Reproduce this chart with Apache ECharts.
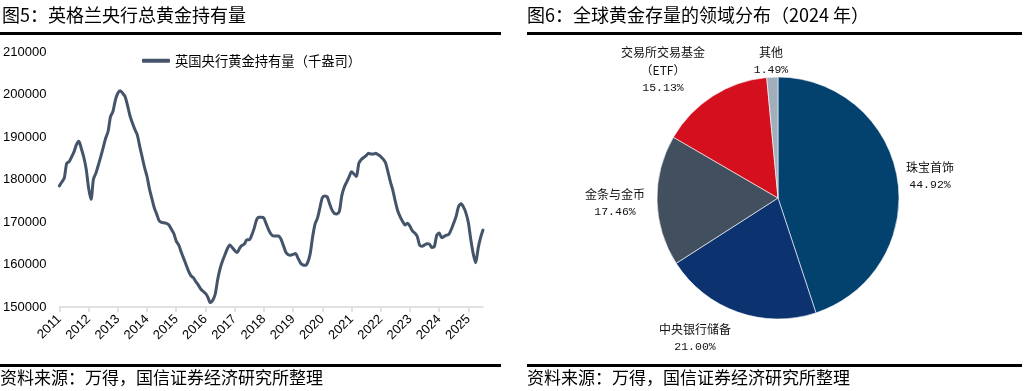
<!DOCTYPE html>
<html><head><meta charset="utf-8">
<script src="https://cdn.jsdelivr.net/npm/echarts@6/dist/echarts.min.js"></script>
<style>html,body{margin:0;padding:0;background:#fff}#c{width:1026px;height:391px}</style>
</head><body><div id="c"></div>
<script>
// ---- Figure 5: BoE gold holdings (thousand oz), monthly 2011-01 .. 2025-07 ----
const years = ['2011','2012','2013','2014','2015','2016','2017','2018','2019','2020','2021','2022','2023','2024','2025'];
const h2011 = [178500,179400,180300,183800,184200,185300,186500,188200,189000,187300,185300,182500];
const h2012 = [178000,175300,180100,181500,183400,185400,187500,189700,191300,194800,196000,198700];
const h2013 = [200300,200900,200300,199500,197400,195000,193300,191800,190500,187800,185300,182800];
const h2014 = [180700,177800,175500,173300,171800,170300,169900,169800,169700,169300,168300,167300];
const h2015 = [165500,164600,163000,161500,160000,158500,157400,156900,156000,155200,154300,153700];
const h2016 = [153200,152300,151000,151600,153000,156400,159000,160800,162300,163700,164600,164000];
const h2017 = [163300,162800,163800,164500,164800,165800,165800,166900,168500,170500,171100,171100];
const h2018 = [170900,169500,168100,167100,166700,166700,166700,166000,164500,162900,162300,162200];
const h2019 = [162400,162600,161500,160400,159900,159800,160500,162500,166400,169500,170900,173300];
const h2020 = [175700,176100,175900,174300,172800,172000,171900,172500,176200,178200,179400,180600];
const h2021 = [181800,181300,180700,183800,184700,185200,185600,186200,186000,186000,186200,185800];
const h2022 = [185400,184800,183900,181700,179400,177400,174800,172600,171200,170100,169300,169700];
const h2023 = [169000,167900,167400,166600,164500,164300,164600,164900,164800,164000,164200,166900];
const h2024 = [167400,166300,166600,166900,167100,168300,169800,171400,173700,174300,173500,172100];
const h2025 = [169800,165800,162500,160400,163800,166300,168100];
const yTicks = [150000,160000,170000,180000,190000,200000,210000];
const seriesName = '英国央行黄金持有量（千盎司）';

// ---- Figure 6: global gold stock by sector (2024) ----
const pieNames = ['珠宝首饰','中央银行储备','金条与金币','交易所交易基金\n（ETF）','其他'];
const pieValues = [44.92, 21.00, 17.46, 15.13, 1.49];

// ---- build ----
const yearly = [h2011,h2012,h2013,h2014,h2015,h2016,h2017,h2018,h2019,h2020,h2021,h2022,h2023,h2024,h2025];
const cats = [], vals = [];
yearly.forEach((arr, yi) => arr.forEach((v, mi) => {
  cats.push(years[yi] + '-' + String(mi + 1).padStart(2, '0'));
  vals.push(v);
}));

const pieColors = ['#03416F', '#0C3370', '#414F5F', '#D40F1E', '#A1AEBC'];
const labelCenters = [[930,176],[695,338],[615,203],[663,70],[771,61]];

const cjk = '"Noto Sans CJK SC", "Noto Sans", sans-serif';
const mono = '"Liberation Mono", "DejaVu Sans Mono", monospace';
const latin = '"Liberation Sans", Arial, sans-serif';

const chart = echarts.init(document.getElementById('c'), null, {renderer: 'canvas'});
chart.setOption({
  backgroundColor: '#fff',
  animation: false,
  textStyle: {fontFamily: cjk},
  graphic: [
    {type: 'text', left: 2, top: 6, style: {text: '图5：英格兰央行总黄金持有量', font: '18px ' + cjk, fill: '#000'}},
    {type: 'rect', shape: {x: 0, y: 32, width: 501, height: 3}, style: {fill: '#000'}},
    {type: 'text', left: 527, top: 6, style: {text: '图6：全球黄金存量的领域分布（2024 年）', font: '18px ' + cjk, fill: '#000'}},
    {type: 'rect', shape: {x: 527, y: 32, width: 495, height: 3}, style: {fill: '#000'}},
    {type: 'rect', shape: {x: 0, y: 364, width: 501, height: 3}, style: {fill: '#000'}},
    {type: 'rect', shape: {x: 527, y: 364, width: 495, height: 3}, style: {fill: '#000'}},
    {type: 'text', left: 0, top: 369, style: {text: '资料来源：万得，国信证券经济研究所整理', font: '17px ' + cjk, fill: '#000'}},
    {type: 'text', left: 527, top: 369, style: {text: '资料来源：万得，国信证券经济研究所整理', font: '17px ' + cjk, fill: '#000'}}
  ],
  legend: {
    data: [seriesName], left: 137, top: 49, icon: 'roundRect', itemWidth: 28, itemHeight: 4,
    textStyle: {fontSize: 13.3, color: '#000', fontFamily: cjk}
  },
  grid: {left: 58, right: 543, top: 52, bottom: 84, containLabel: false},
  xAxis: {
    type: 'category', data: cats, boundaryGap: false,
    axisLine: {lineStyle: {color: '#d9d9d9', width: 1.5}},
    axisTick: {interval: (i) => i % 12 === 0, length: 5, lineStyle: {color: '#d9d9d9', width: 1.5}},
    axisLabel: {interval: (i) => i % 12 === 0, formatter: (v) => v.slice(0, 4), rotate: 45,
      fontSize: 13, color: '#000', fontFamily: latin, margin: 10},
    splitLine: {show: false}
  },
  yAxis: {
    type: 'value', min: yTicks[0], max: yTicks[yTicks.length - 1], interval: 10000,
    axisLine: {show: false}, axisTick: {show: false}, splitLine: {show: false},
    axisLabel: {fontSize: 13, color: '#000', margin: 13, fontFamily: latin, formatter: (v) => String(v)}
  },
  series: [
    {
      type: 'line', name: seriesName, data: vals, showSymbol: false, symbol: 'none', smooth: 0.25,
      lineStyle: {color: '#44546A', width: 3, cap: 'round', join: 'round'},
      itemStyle: {color: '#44546A'}
    },
    {
      type: 'pie', center: [778, 198], radius: 121, startAngle: 90, clockwise: true,
      avoidLabelOverlap: false,
      data: pieNames.map((n, i) => ({name: n, value: pieValues[i], itemStyle: {color: pieColors[i]}})),
      itemStyle: {borderColor: '#ffffff', borderWidth: 0.6},
      label: {
        show: true, position: 'outside', color: '#111',
        formatter: (p) => p.name.split('\n').map(s => '{n|' + s + '}').join('\n') + '\n{p|' + p.value.toFixed(2) + '%}',
        rich: {
          n: {fontSize: 12, fontFamily: cjk, lineHeight: 17.5, color: '#111', align: 'center'},
          p: {fontSize: 11.5, fontFamily: mono, lineHeight: 17.5, color: '#111', align: 'center'}
        }
      },
      labelLine: {show: false},
      labelLayout: (params) => {
        const c = labelCenters[params.dataIndex];
        return {x: c[0], y: c[1], align: 'center', verticalAlign: 'middle'};
      }
    }
  ]
});
</script>
</body></html>
